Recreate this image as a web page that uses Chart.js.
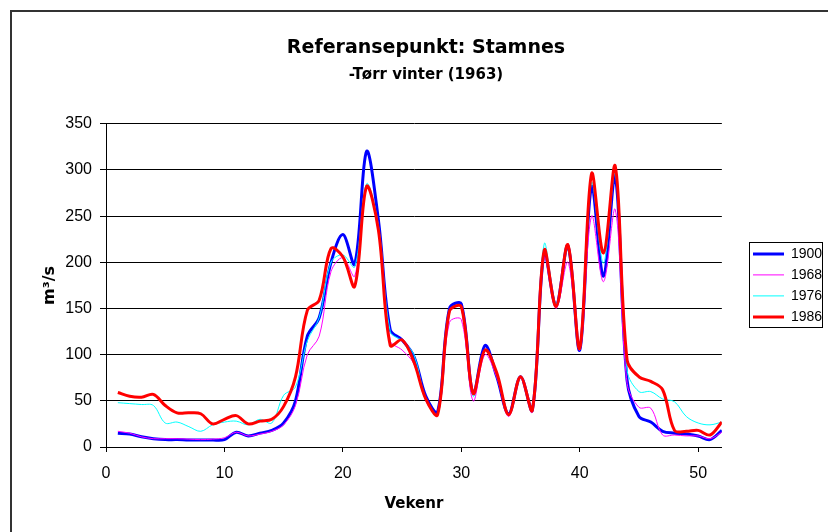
<!DOCTYPE html>
<html>
<head>
<meta charset="utf-8">
<script src="https://cdn.jsdelivr.net/npm/chart.js@4.4.1/dist/chart.umd.min.js"></script>
<style>
  html, body { margin: 0; padding: 0; background: #fff; overflow: hidden; }
  #frame { position: absolute; left: 10px; top: 10px; width: 900px; height: 600px; border: 2px solid #333; }
  #wrap { position: absolute; left: 0; top: 0; width: 828px; height: 532px; }
</style>
</head>
<body>
<div id="frame"></div>
<div id="wrap"><canvas id="Chart" width="828" height="532"></canvas></div>
<script>
// uke 1-52
var weeks = [1,2,3,4,5,6,7,8,9,10,11,12,13,14,15,16,17,18,19,20,21,22,23,24,25,26,
             27,28,29,30,31,32,33,34,35,36,37,38,39,40,41,42,43,44,45,46,47,48,49,50,51,52];
var xTicks = [0,10,20,30,40,50];
var s1900 = [15,14,11,9,8,8,7.5,7.5,7.5,8, 16,12,15,18,26,50,120,140,200,230,
             198,320,246,127,116,98,55,38,150,155, 58,110,76,36,76,40,210,153,218,105,
             282,185,293,72,33,27,17,15,14,12, 8,18];
var s1968 = [17,15,11,9,9,9,8.5,8,8.5,10, 16,12,14,17,24,45,100,120,190,205,
             185,280,235,115,105,90,50,35,135,138, 50,100,75,33,75,38,205,150,200,105,
             250,179,257,69,43,42,13,13,12,12, 9,16];
var s1976 = [48,47,46,45,26,27,22,17,24,27, 28,24,30,26,56,65,115,140,200,208,
             195,285,240,125,115,100,52,36,148,152, 55,105,78,35,76,40,220,155,215,108,
             286,199,296,83,60,60,52,49,33,26, 24,27];
var s1986 = [59,55,54,57,45,37,37,36,25,30, 34,25,28,30,44,76,148,159,215,206,
             174,282,235,110,116,92,52,35,147,152, 58,105,80,35,76,40,213,152,219,107,
             296,210,304,94,76,71,62,18,17,18, 13,27];

function pts(vals){
    var out = [];
    for(let i=0;i<weeks.length;i++){
        out.push({x: weeks[i], y: vals[i]});
    }
    return out;
}

/* ramme rundt forklaringen, og flytt den litt til høyre */
var legendBox = {
    id: 'legendBox',
    afterLayout: function(chart){
        var lg = chart.legend;
        lg.left = 746;
        lg.right = lg.left + lg.width;
    },
    afterDraw: function(chart){
        var lg = chart.legend;
        var hb = lg.legendHitBoxes;
        if(!hb || !hb.length) return;
        var top = hb[0].top - 5;
        var last = hb[hb.length-1];
        var bottom = last.top + last.height + 3;
        var ctx = chart.ctx;
        ctx.save();
        ctx.strokeStyle = '#000';
        ctx.lineWidth = 1;
        ctx.strokeRect(lg.left + 3.5, Math.round(top) + 0.5, 73, Math.round(bottom - top));
        ctx.restore();
    }
};

var ctx = document.getElementById('Chart');
var chart = new Chart(ctx, {
    type: 'line',
    data: {
        datasets: [
            {label: '1900', data: pts(s1900), borderColor: '#0000FF', backgroundColor: '#0000FF', borderWidth: 3, order: 4},
            {label: '1968', data: pts(s1968), borderColor: '#FF00FF', backgroundColor: '#FF00FF', borderWidth: 1, order: 3},
            {label: '1976', data: pts(s1976), borderColor: '#00FFFF', backgroundColor: '#00FFFF', borderWidth: 1, order: 2},
            {label: '1986', data: pts(s1986), borderColor: '#FF0000', backgroundColor: '#FF0000', borderWidth: 3, order: 1}
        ]
    },
    options: {
        responsive: false,
        animation: false,
        layout: {padding: {left: 44, right: 20, top: 0, bottom: 0}},
        elements: {
            point: {radius: 0},
            line: {tension: 0.35}
        },
        plugins: {
            title: {
                display: true,
                text: 'Referansepunkt: Stamnes',
                color: '#000',
                font: {family: 'DejaVu Sans', size: 19, weight: 'bold'},
                padding: {top: 37, bottom: 0}
            },
            subtitle: {
                display: true,
                text: '-Tørr vinter (1963)',
                color: '#000',
                font: {family: 'DejaVu Sans', size: 15, weight: 'bold'},
                padding: {top: 6, bottom: 40}
            },
            legend: {
                position: 'right',
                fullSize: false,
                labels: {
                    usePointStyle: true,
                    pointStyle: 'line',
                    pointStyleWidth: 31,
                    padding: 7,
                    color: '#000',
                    font: {family: 'Liberation Sans', size: 14},
                    sort: function(a, b){ return a.datasetIndex - b.datasetIndex; }
                }
            },
            tooltip: {enabled: false}
        },
        scales: {
            x: {
                type: 'linear',
                min: 0,
                max: 52,
                afterFit: function(scale){ scale.height = 85; },
                afterBuildTicks: function(scale){
                    scale.ticks = xTicks.map(function(v){ return {value: v}; });
                },
                ticks: {stepSize: 10, padding: 12, color: '#000', font: {family: 'Liberation Sans', size: 16}},
                grid: {drawOnChartArea: false, drawTicks: true, tickLength: 5, color: '#000'},
                border: {color: '#000', width: 1},
                title: {
                    display: true,
                    text: 'Vekenr',
                    color: '#000',
                    font: {family: 'DejaVu Sans', size: 15, weight: 'bold'},
                    padding: {top: 0, bottom: 19}
                }
            },
            y: {
                min: 0,
                max: 350,
                afterFit: function(scale){ scale.width = 62; },
                ticks: {stepSize: 50, padding: 8, color: '#000', font: {family: 'Liberation Sans', size: 16}},
                grid: {color: '#000', tickLength: 6, lineWidth: 1},
                border: {color: '#000', width: 1},
                title: {
                    display: true,
                    text: 'm³/s',
                    color: '#000',
                    font: {family: 'DejaVu Sans', size: 16, weight: 'bold'},
                    padding: {top: -4, bottom: 0}
                }
            }
        }
    },
    plugins: [legendBox]
});
</script>
</body>
</html>
